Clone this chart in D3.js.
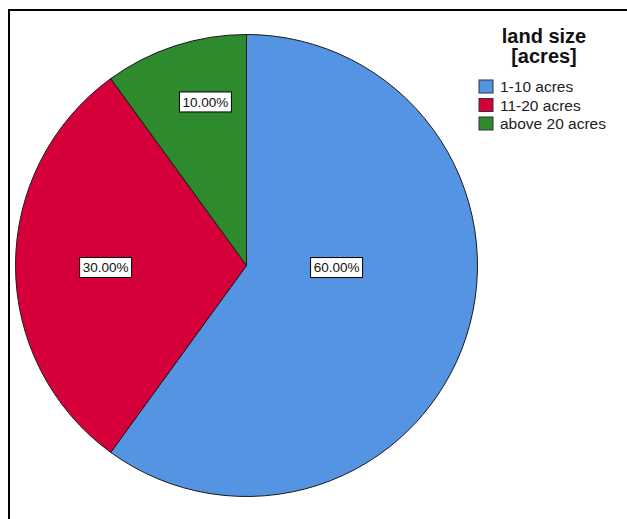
<!DOCTYPE html>
<html>
<head>
<meta charset="utf-8">
<script src="https://cdn.jsdelivr.net/npm/d3@7"></script>
<style>
  body { margin: 0; background: #fff; }
  text { font-family: "Liberation Sans", Arial, sans-serif; }
</style>
</head>
<body>
<div id="chart"></div>
<script>
// land size categories and their share of respondents
var categories = ["1-10 acres", "11-20 acres", "above 20 acres"];
var percents = [60, 30, 10];
var colors = ["#5594e3", "#d5003a", "#2d8a2d"];

// label placement tweaks: [radius fraction, angle shift in degrees]
var labelPlace = [[0.39, -16.7], [0.61, -0.8], [0.73, 3.9]];

var svgWidth = 627;
var svgHeight = 519;

var svg = d3.select("#chart")
.append("svg")
.attr("width", svgWidth)
.attr("height", svgHeight);

// frame: top and left edges only
svg.append("path")
.attr("d", "M9,519 V10 H627")
.attr("fill", "none")
.attr("stroke", "#000")
.attr("stroke-width", 2);

var cx = 246.5, cy = 265.5, radius = 231;

var pieData = d3.pie()
.sort(null)
.value(d => d)(percents);

var arc = d3.arc()
.innerRadius(0)
.outerRadius(radius);

var pieGroup = svg.append("g")
.attr("transform", `translate(${cx},${cy})`);

pieGroup.selectAll("path")
.data(pieData)
.enter()
.append("path")
.attr("d", arc)
.attr("fill", (d, i) => colors[i])
.attr("stroke", "#1a1a1a")
.attr("stroke-width", 1);

var labelGroup = pieGroup.selectAll("g.label")
.data(pieData)
.enter()
.append("g")
.attr("class", "label")
.attr("transform", function(d, i) {
    var a = (d.startAngle + d.endAngle) / 2 + labelPlace[i][1] * Math.PI / 180;
    var r = radius * labelPlace[i][0];
    return `translate(${r * Math.sin(a)},${-r * Math.cos(a)})`;
});

labelGroup.append("rect")
.attr("x", -26)
.attr("y", -10)
.attr("width", 52)
.attr("height", 20)
.attr("fill", "#fff")
.attr("stroke", "#000")
.attr("stroke-width", 1);

labelGroup.append("text")
.attr("text-anchor", "middle")
.attr("dy", "0.36em")
.attr("font-size", "13.5px")
.attr("fill", "#111")
.text(d => d3.format(".2f")(d.data) + "%");

// legend
var legend = svg.append("g");

legend.append("text")
.attr("x", 544)
.attr("y", 43)
.attr("text-anchor", "middle")
.attr("font-size", "20px")
.attr("font-weight", "bold")
.attr("fill", "#111")
.text("land size");

legend.append("text")
.attr("x", 544)
.attr("y", 63)
.attr("text-anchor", "middle")
.attr("font-size", "20px")
.attr("font-weight", "bold")
.attr("fill", "#111")
.text("[acres]");

var items = legend.selectAll("g.item")
.data(categories)
.enter()
.append("g")
.attr("class", "item")
.attr("transform", (d, i) => `translate(479,${80 + i * 18.5})`);

items.append("rect")
.attr("width", 14)
.attr("height", 13)
.attr("fill", (d, i) => colors[i])
.attr("stroke", "#333")
.attr("stroke-width", 1);

items.append("text")
.attr("x", 21)
.attr("y", 12)
.attr("font-size", "15.5px")
.attr("fill", "#222")
.text(d => d);
</script>
</body>
</html>
